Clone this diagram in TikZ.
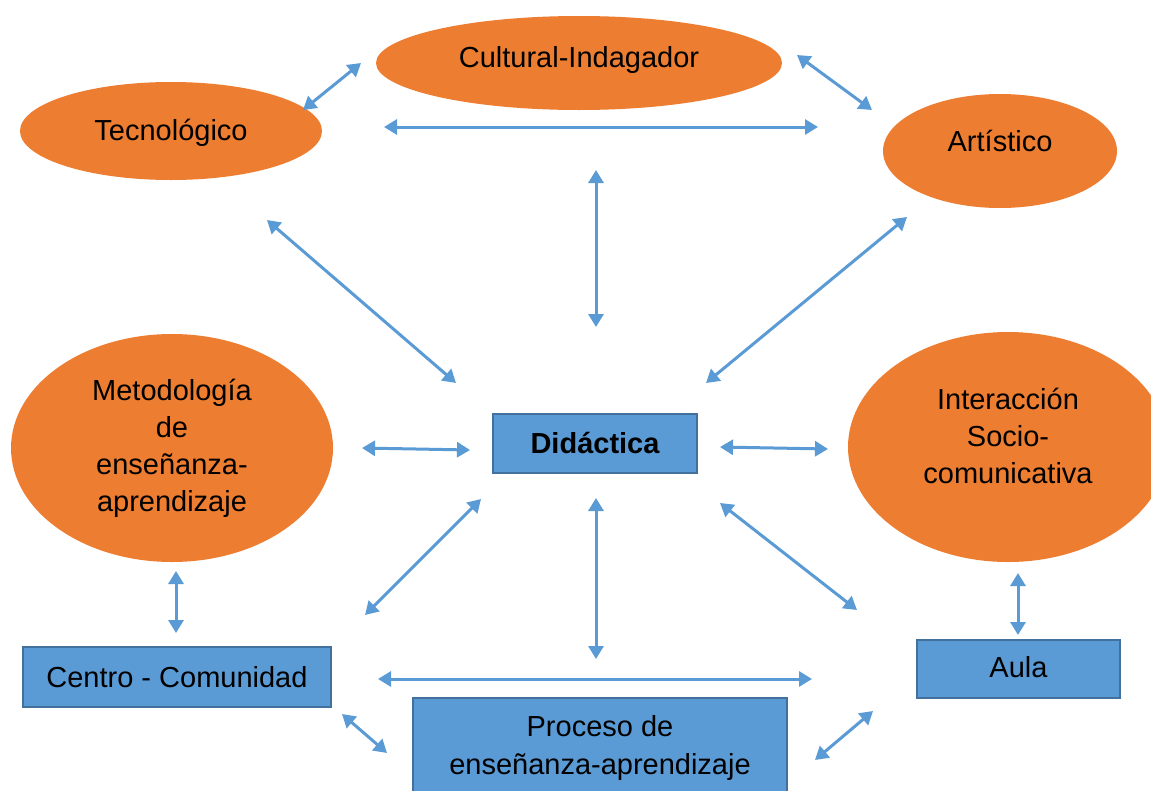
\documentclass[tikz,border=0pt]{standalone}
\usepackage{fontspec}
\setmainfont{Liberation Sans}
\usetikzlibrary{shapes.geometric,arrows.meta}
\definecolor{orng}{HTML}{ED7D31}
\definecolor{bluefill}{HTML}{5B9BD5}
\definecolor{blueline}{HTML}{41719C}
\definecolor{arrowblue}{HTML}{5B9BD5}
\tikzset{
  oval/.style={ellipse, fill=orng, draw=none, inner sep=0pt, align=center, font=\fontsize{29}{37}\selectfont},
  lbl/.style={align=center, inner sep=0pt, font=\fontsize{29}{37}\selectfont},
  sbox/.style={rectangle, fill=bluefill, draw=blueline, line width=2pt, inner sep=0pt, align=center, font=\fontsize{29}{38}\selectfont},
  link/.style={draw=arrowblue, line width=3pt, {Triangle[length=13pt,width=15pt]}-{Triangle[length=13pt,width=15pt]}}
}
\begin{document}
\begin{tikzpicture}[x=1pt,y=-1pt]
\clip (0,0) rectangle (1151,790);
\fill[white] (0,0) rectangle (1151,790);
% ellipses
\node[oval, minimum width=406pt, minimum height=94pt, label={[lbl, yshift=3pt]center:Cultural-Indagador}] (cult) at (579,63) {};
\node[oval, minimum width=302pt, minimum height=98pt, label={[lbl, yshift=-2pt]center:Tecnológico}] (tec) at (171,131) {};
\node[oval, minimum width=234pt, minimum height=114pt, label={[lbl, yshift=10pt]center:Artístico}] (art) at (1000,151) {};
\node[oval, minimum width=322pt, minimum height=228pt] (met) at (172,448) {Metodología\\de\\enseñanza-\\aprendizaje};
\node[oval, minimum width=320pt, minimum height=230pt, label={[lbl, yshift=11pt]center:Interacción\\Socio-\\comunicativa}] (inter) at (1008,447) {};
% boxes
\node[sbox, minimum width=204pt, minimum height=59pt, font=\fontsize{29}{37}\selectfont\bfseries] (did) at (595,443.5) {Didáctica};
\node[sbox, minimum width=308pt, minimum height=60pt] (cen) at (177,677) {Centro - Comunidad};
\node[sbox, minimum width=374pt, minimum height=100pt, anchor=north] (proc) at (600,697) {Proceso de\\enseñanza-aprendizaje};
\node[sbox, minimum width=203pt, minimum height=58pt, label={[lbl, yshift=2pt]center:Aula}] (aula) at (1018.5,669) {};
% arrow end points
\coordinate (a1s) at (303,110); \coordinate (a1e) at (361,63);
\coordinate (a2s) at (384,127); \coordinate (a2e) at (818,127);
\coordinate (a3s) at (797,55);  \coordinate (a3e) at (872,110);
\coordinate (a4s) at (596,170); \coordinate (a4e) at (596,327);
\coordinate (a5s) at (267,220); \coordinate (a5e) at (456,383);
\coordinate (a6s) at (907,217); \coordinate (a6e) at (706,383);
\coordinate (a7s) at (362,448); \coordinate (a7e) at (470,450);
\coordinate (a8s) at (720,447); \coordinate (a8e) at (828,449);
\coordinate (a9s) at (481,499); \coordinate (a9e) at (365,615);
\coordinate (a10s) at (596,498); \coordinate (a10e) at (596,659);
\coordinate (a11s) at (720,503); \coordinate (a11e) at (857,610);
\coordinate (a12s) at (176,571); \coordinate (a12e) at (176,633);
\coordinate (a13s) at (1018,573); \coordinate (a13e) at (1018,635);
\coordinate (a14s) at (378,679); \coordinate (a14e) at (812,679);
\coordinate (a15s) at (342,714); \coordinate (a15e) at (387,753);
\coordinate (a16s) at (815,760); \coordinate (a16e) at (873,711);
\foreach \i in {1,...,16} {\draw[link] (a\i s) -- (a\i e);}
\end{tikzpicture}
\end{document}
